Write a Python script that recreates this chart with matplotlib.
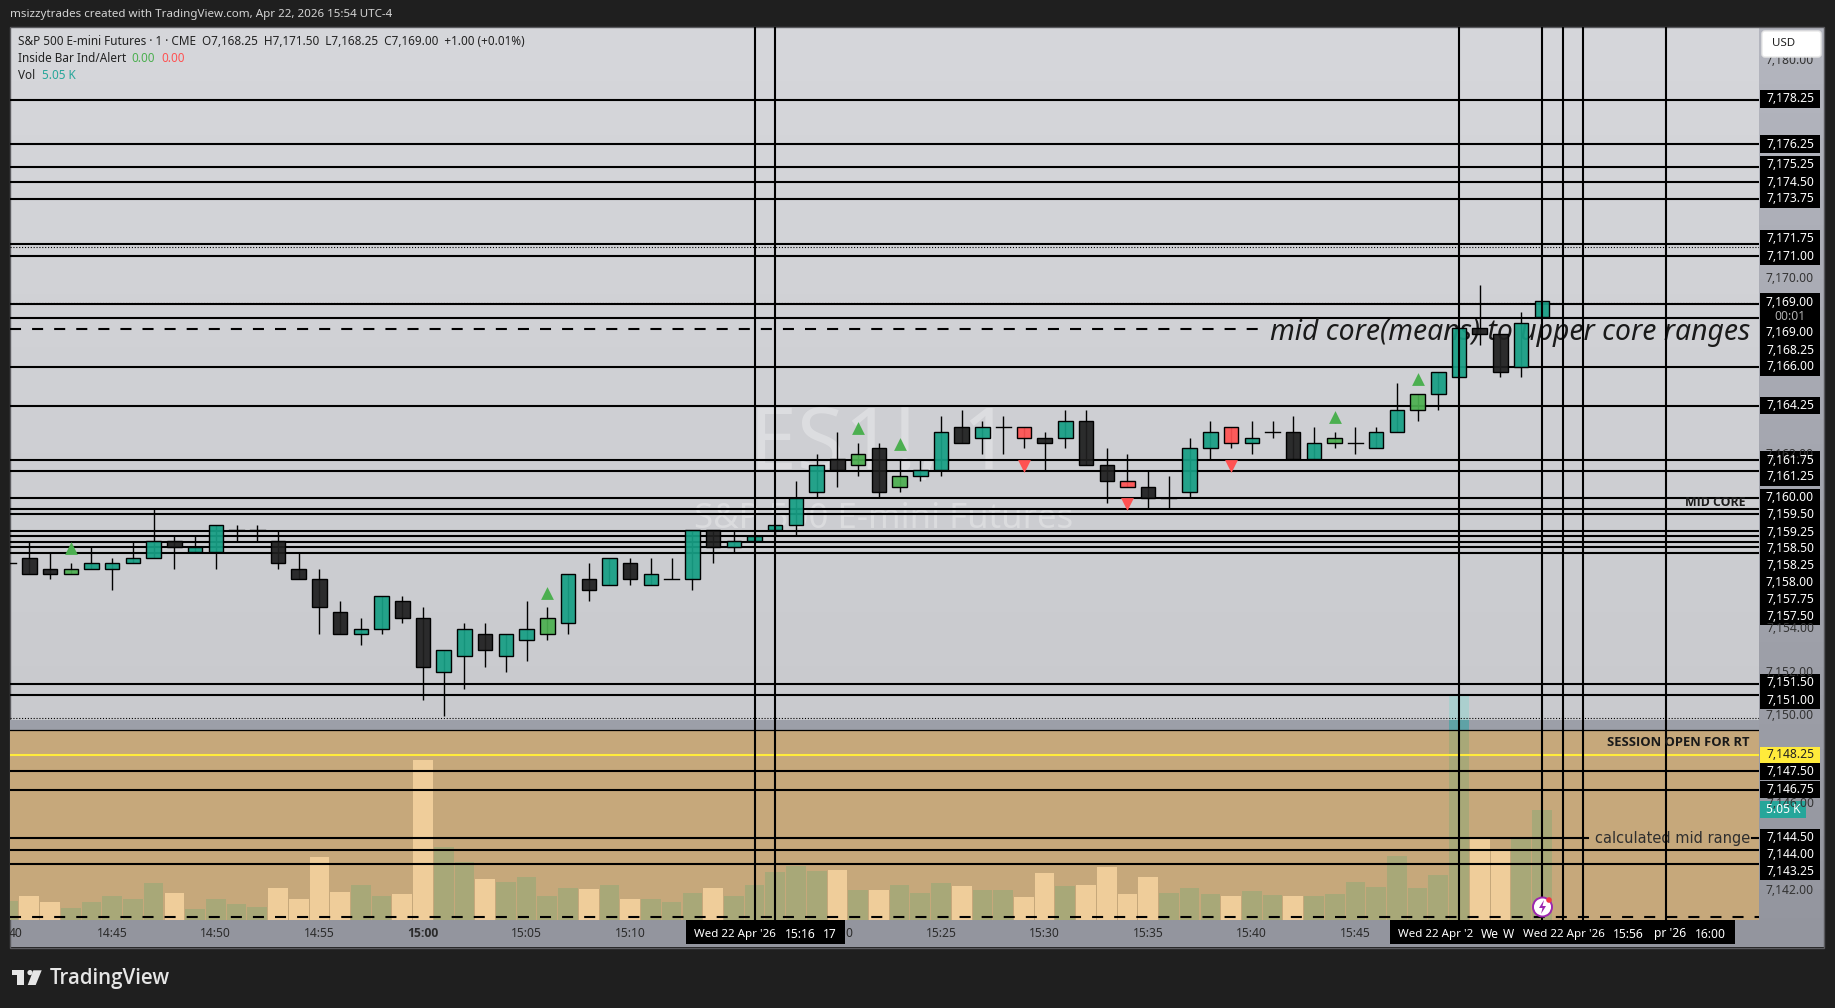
import numpy as np
import matplotlib
matplotlib.use("Agg")
import matplotlib.pyplot as plt
from matplotlib.patches import Rectangle, Polygon, FancyBboxPatch, Circle

plt.rcParams['font.family'] = ['Noto Sans', 'DejaVu Sans']

# ---------- data ----------
opens = [7157,7157.25,7156.75,7156.5,7156.75,7156.75,7157,7157.25,7158,7157.5,
 7157.5,7158.5,7158.5,7158,7156.75,7156.25,7154.75,7153.75,7154,7155.25,
 7154.5,7152,7152.75,7153.75,7152.75,7153.5,7153.75,7154.25,7156.25,7156,
 7157,7156,7156.25,7156.25,7158.5,7157.75,7158,7158.5,7158.75,7160.25,
 7161.75,7161.5,7162.25,7160.5,7161,7161.25,7163.25,7162.75,7163.25,7163.25,
 7162.75,7162.75,7163.5,7161.5,7160.75,7160.5,7160,7160.25,7162.25,7163.25,
 7162.5,7163,7163,7161.75,7162.5,7162.5,7162.25,7163,7164,7164.75,
 7165.5,7167.75,7167.5,7166,7168.25]
highs = [7157,7158,7157.5,7157,7157.75,7157.25,7158,7159.5,7158.25,7158.25,
 7158.75,7158.75,7158.75,7158.5,7157.5,7156.75,7155.25,7154.5,7155.5,7155.5,
 7155,7153,7154.25,7154.25,7153.75,7155.25,7155,7156.5,7157,7157.25,
 7157.25,7157.25,7157.25,7158.5,7158.5,7158.5,7158.25,7158.75,7160.75,7162,
 7163,7162.5,7162.5,7161.75,7161.75,7163.75,7164,7163.5,7163.75,7163.25,
 7163,7164,7164,7162.25,7162,7161.25,7161,7162.75,7163.5,7163.25,
 7163.5,7163.5,7163.75,7163.25,7163,7163.25,7163.25,7165.25,7164.75,7165.75,
 7167.75,7169.75,7167.5,7168.5,7169]
lows = [7157,7156.5,7156.25,7156.5,7156.75,7155.75,7157,7157.25,7156.75,7157.5,
 7156.75,7158,7158,7156.75,7156.25,7153.75,7153.75,7153.25,7153.75,7154.25,
 7150.75,7150,7151.25,7152.25,7152,7152.5,7153.5,7153.75,7155.25,7156,
 7156,7156,7156.25,7155.75,7157,7157.5,7158,7158.25,7158.25,7160,
 7160.5,7161,7160,7160.25,7160.75,7161,7162.5,7162,7162,7162.25,
 7161.25,7162.25,7161.5,7159.75,7160.5,7159.5,7159.5,7160,7161.75,7162.25,
 7162,7162.75,7161.75,7161.75,7162.25,7162,7162.25,7163,7163.5,7164,
 7165.5,7167,7165.5,7165.5,7168.25]
closes = [7157,7156.5,7156.5,7156.75,7157,7157,7157.25,7158,7157.75,7157.75,
 7158.75,7158.5,7158.5,7157,7156.25,7155,7153.75,7154,7155.5,7154.5,
 7152.25,7153,7154,7153,7153.75,7154,7154.5,7156.5,7155.75,7157.25,
 7156.25,7156.5,7156.25,7158.5,7157.75,7158,7158.25,7158.75,7160,7161.5,
 7161.25,7162,7160.25,7161,7161.25,7163,7162.5,7163.25,7163.25,7162.75,
 7162.5,7163.5,7161.5,7160.75,7160.5,7160,7160,7162.25,7163,7162.5,
 7162.75,7163,7161.75,7162.5,7162.75,7162.5,7163,7164,7164.75,7165.75,
 7167.75,7167.5,7165.75,7168,7169]
inside_up = [3,26,41,43,64,68]
inside_up_marker = [7157.7,7155.65,7163.18,7162.45,7163.68,7165.42]
inside_down = [49,54,59]
inside_down_marker = [7161.44,7159.7,7161.44]
volumes = [.88,1.11,.83,.54,.79,1.07,.93,1.7,1.21,.51,.93,.74,.6,1.47,.97,2.89,1.25,1.61,1.07,1.16,
 7.34,3.35,2.67,1.89,1.75,1.98,1.11,1.47,1.42,1.61,.95,.95,.8,1.22,1.45,1.09,1.59,2.19,2.47,2.24,
 2.28,1.36,1.36,1.59,1.22,1.67,1.55,1.36,1.36,1.04,2.14,1.55,1.59,2.42,1.18,1.96,1.22,1.45,1.18,1.09,
 1.32,1.13,1.09,1.09,1.18,1.73,1.5,2.92,1.45,2.05,10.25,3.71,3.15,3.8,5.05]
vol_peach = [1,2,8,13,14,15,16,19,20,23,28,30,34,40,42,46,49,50,52,53,54,55,59,62,71,72]
levels = [7178.2,7176.19,7175.15,7174.45,7173.68,7171.61,7171.07,7168.88,7168.24,7166.0,7164.21,
 7161.72,7161.23,7160.0,7159.48,7159.25,7158.48,7158.22,7157.97,7157.74,7157.46,
 7151.46,7150.97,7147.48,7146.62,7143.86,7143.22]
level_mid_range = 7144.41
level_session = 7148.21
level_pane_top = 7149.36
dotted_levels = [7171.47,7168.92,7149.93]
dashed_top = 7167.72
dashed_bottom = 7140.8
vlines = [36,37,70,74,75,76,80]
time_ticks = ['40','14:45','14:50','14:55','15:00','15:05','15:10','15:25','15:30','15:35','15:40','15:45']
time_tick_idx = [0.35,5,10,15,20,25,30,45,50,55,60,65]
axis_prices = ['7,180.00','7,170.00','7,162.00','7,154.00','7,152.00','7,150.00','7,146.00','7,142.00']
axis_prices_y = [61,278.3,454,628.7,672,715.7,803.7,890.7]
tags = ['7,178.25','7,176.25','7,175.25','7,174.50','7,173.75','7,171.75','7,171.00','7,169.00','7,169.00','7,168.25','7,166.00','7,164.25',
 '7,161.75','7,161.25','7,160.00','7,159.50','7,159.25','7,158.50','7,158.25','7,158.00','7,157.75','7,157.50',
 '7,151.50','7,151.00','7,147.50','7,146.75','7,144.50','7,144.00','7,143.25']
tags_y = [99,144,165,182,199,239,256,302,332,350,367,405.7,460,477,497.7,514.7,532,548.7,565.7,582.3,599.7,616.3,
 683,700.7,771.7,789.7,837.7,854.7,871.7]

# ---------- layout ----------
W, H = 1835, 1008
L, R, T, B = 10, 1759, 27, 919.7
BAR_PX, X0 = 20.72, 8.6
PX_PER_PT, Y_REF, P_REF = 21.84, 99, 7178.25
VOL_PX = 21.78
UI = ['Noto Sans', 'DejaVu Sans']
BOLD = ['Open Sans', 'DejaVu Sans']

fig = plt.figure(figsize=(W/100, H/100), dpi=100, facecolor='#1f1f1f')
def pane(zorder):
    a = fig.add_axes([L/W, 1-B/H, (R-L)/W, (B-T)/H], zorder=zorder)
    a.axis('off')
    a.patch.set_alpha(0)
    a.set_xlim((L-X0)/BAR_PX, (R-X0)/BAR_PX)
    return a

bg = fig.add_axes([0, 0, 1, 1], zorder=0)
bg.set_xlim(0, W); bg.set_ylim(H, 0); bg.axis('off')
grad = np.linspace(0, 1, 256).reshape(-1, 1)
bg.imshow(grad, extent=[L, R, 720, T], cmap=matplotlib.colors.LinearSegmentedColormap.from_list('a', ['#d6d7db', '#c9cace']), aspect='auto', zorder=0)
bg.imshow(grad, extent=[R, 1824, 947, T], cmap=matplotlib.colors.LinearSegmentedColormap.from_list('b', ['#b4b6bf', '#93959e']), aspect='auto', zorder=0)
bg.add_patch(Rectangle((L, 720), R-L, 227, fc='#93959e', ec='none', zorder=0.5))
bg.add_patch(Rectangle((L-0.5, T-0.5), 1824-L, 947-T+1, fc='none', ec='#5a5a5e', lw=1, zorder=1))
bg.set_xlim(0, W); bg.set_ylim(H, 0)
bg.text(880, 447, 'ES1!, 1', fontsize=62, color='white', alpha=0.3, ha='center', va='center', zorder=2, family=UI)
bg.text(884, 519, 'S&P 500 E-mini Futures', fontsize=25, color='white', alpha=0.3, ha='center', va='center', zorder=2, family=UI)

# volume pane
av = pane(1)
av.set_ylim(0, (B-T)/VOL_PX)
band_top = (B-730)/VOL_PX
gray_top = (B-720)/VOL_PX
av.axhspan(0, band_top, color='#c6a87b', lw=0, zorder=1)
av.axhspan(band_top, gray_top, color='#9c9fa8', lw=0, zorder=1)
idx = np.arange(len(volumes))
vols = np.array(volumes)
bcol = ['#efcd9a' if i in vol_peach else '#a8a878' for i in idx]
av.bar(idx, np.minimum(vols, band_top), width=0.95, color=bcol, lw=0, zorder=2)
over = vols > band_top
av.bar(idx[over], np.minimum(vols[over], gray_top)-band_top, bottom=band_top, width=0.95, color='#5fa2a6', lw=0, zorder=2)
av.bar(idx[over], vols[over]-gray_top, bottom=gray_top, width=0.95, color='#abcfce', lw=0, zorder=2)

# price pane
ax = pane(2)
ax.set_ylim(P_REF-(B-Y_REF)/PX_PER_PT, P_REF+(Y_REF-T)/PX_PER_PT)
lw2 = 1.5
for p in levels:
    ax.axhline(p, color='black', lw=lw2, zorder=2)
ax.axhline(level_pane_top, color='black', lw=0.9, zorder=2)
ax.axhline(level_session, color='#ffeb3b', lw=lw2, zorder=2)
for p in dotted_levels:
    ax.axhline(p, color='black', lw=0.8, ls=(0, (1, 1.6)), zorder=2)
xpx = lambda px: (px-X0)/BAR_PX
ax.plot([xpx(L), xpx(1258)], [dashed_top]*2, color='black', lw=lw2, ls=(0, (5.3, 5.3)), zorder=2)
ax.plot([xpx(L), xpx(R)], [dashed_bottom]*2, color='black', lw=lw2, ls=(0, (5.3, 5.3)), zorder=2)
ax.plot([xpx(L), xpx(1588)], [level_mid_range]*2, color='black', lw=lw2, zorder=2)
ax.plot([xpx(1752), xpx(R)], [level_mid_range]*2, color='black', lw=lw2, zorder=2)

ax.text(xpx(1270), dashed_top-0.15, 'mid core(means) to upper core ranges', fontsize=20.4, style='italic', color='#1a1a1a', va='center', ha='left', zorder=3, family=UI)
ax.text(xpx(1595), level_mid_range, 'calculated mid range', fontsize=10.5, color='#2e2e2e', va='center', ha='left', zorder=3, family=['DejaVu Sans'])

up_set, dn_set = set(inside_up), set(inside_down)
for i, (o, h, l, c) in enumerate(zip(opens, highs, lows, closes)):
    ax.plot([i, i], [l, h], color='black', lw=1.0, zorder=4, solid_capstyle='butt')
    if o == c:
        ax.plot([i-0.36, i+0.36], [o, o], color='black', lw=1.0, zorder=4)
        continue
    if i in up_set:
        col = '#4caf50'
    elif i in dn_set:
        col = '#ff5252'
    elif c > o:
        col = '#179f85'
    else:
        col = '#1f1f1f'
    ax.add_patch(Rectangle((i-0.35, min(o, c)), 0.7, abs(c-o), fc=matplotlib.colors.to_rgba(col, 0.93), ec='black', lw=1.0, zorder=5))
ax.scatter(inside_up, inside_up_marker, marker='^', s=85, color='#4caf50', lw=0, zorder=5)
ax.scatter(inside_down, inside_down_marker, marker='v', s=85, color='#ff5252', lw=0, zorder=5)
for v in vlines:
    ax.axvline(v, color='black', lw=lw2, zorder=6)

# overlay in pixels
ov = fig.add_axes([0, 0, 1, 1], zorder=3)
ov.set_xlim(0, W); ov.set_ylim(H, 0); ov.axis('off'); ov.patch.set_alpha(0)
def txt(x, y, s, size=9, color='#222222', ha='left', **kw):
    kw.setdefault('family', UI)
    return ov.text(x, y, s, fontsize=size, color=color, ha=ha, va='center', **kw)

txt(1607, 743, 'SESSION OPEN FOR RT', 9.4, '#1a1a1a', weight='bold', family=BOLD)
txt(1685, 503, 'MID CORE', 8.8, '#1a1a1a', weight='bold', family=BOLD)

txt(10, 15, 'msizzytrades created with TradingView.com, Apr 22, 2026 15:54 UTC-4', 8.33, '#d4d4d4')
txt(18, 41.7, 'S&P 500 E-mini Futures · 1 · CME  O7,168.25  H7,171.50  L7,168.25  C7,169.00  +1.00 (+0.01%)', 8.46)
txt(18, 58.7, 'Inside Bar Ind/Alert', 8.46)
txt(131, 58.7, '0.00', 8.46, '#4caf50')
txt(161, 58.7, '0.00', 8.46, '#ff5252')
txt(18, 75.7, 'Vol', 8.46)
txt(41.5, 75.7, '5.05 K', 8.46, '#26a69a')

# price axis
for s, y in zip(axis_prices, axis_prices_y):
    txt(1790, y, s, 8.7, '#333333', ha='center')
for s, y in zip(tags, tags_y):
    ov.add_patch(Rectangle((1760, y-8.6), 60, 17.2, fc='black', ec='none', zorder=2))
for s, y in zip(tags, tags_y):
    txt(1790, y, s, 8.7, 'white', ha='center', zorder=3)
ov.add_patch(Rectangle((1760, 294), 60, 31, fc='black', ec='none', zorder=2))
txt(1790, 316, '00:01', 8.7, '#b0b0b0', ha='center', zorder=3)
ov.add_patch(Rectangle((1760, 746.5), 60, 16.5, fc='#ffeb3b', ec='none', zorder=2))
txt(1790, 754.7, '7,148.25', 8.7, '#222222', ha='center', zorder=3)
ov.add_patch(Rectangle((1760, 800.5), 46, 17, fc='#26a69a', ec='none', zorder=2))
txt(1783, 809.3, '5.05 K', 8.7, 'white', ha='center', zorder=3)
ov.add_patch(FancyBboxPatch((1762, 31), 59, 26, boxstyle='round,pad=0,rounding_size=3', fc='white', ec='#e8e8e8', lw=1, mutation_scale=1, zorder=4))
txt(1772, 44, 'USD', 8.3, '#222222', zorder=5)

# time axis
for s, i in zip(time_ticks, time_tick_idx):
    x = X0 + i*BAR_PX
    txt(x, 933.5, s, 8.7, '#2b2b2b', ha='center', weight='bold' if s == '15:00' else 'normal', family=BOLD if s == '15:00' else UI, zorder=1)
txt(845.5, 933.5, '0', 8.7, '#2b2b2b', zorder=1)
ov.add_patch(Rectangle((686, 920), 158.5, 23.5, fc='black', ec='none', zorder=2))
ov.add_patch(Rectangle((1390, 920), 344.5, 23.5, fc='black', ec='none', zorder=2))
date_labels = ["Wed 22 Apr '26", '15:16', '17', "Wed 22 Apr '2", 'We', 'W', "Wed 22 Apr '26", '15:56', "pr '26", '16:00']
date_x = [694, 785, 823, 1398, 1481, 1503, 1523, 1613, 1654, 1695]
for s, x in zip(date_labels, date_x):
    txt(x, 934, s, 8.3 if 'Wed' in s else 8.7, 'white', zorder=3)

# alert badge
ov.add_patch(Circle((1542.5, 907), 9.5, fc='white', ec='#9c27b0', lw=1.4, zorder=4))
ov.add_patch(Polygon([[1544, 900], [1539, 908], [1542.5, 908], [1541, 914], [1546, 906], [1542.5, 906]], fc='#9c27b0', ec='none', zorder=5))
ov.add_patch(Circle((1549, 900), 2.8, fc='#f23645', ec='none', zorder=5))

# logo
logo = '#e6e6e6'
ov.add_patch(Polygon([[12, 970.3], [24, 970.3], [24, 985], [17, 985], [17, 975.2], [12, 975.2]], fc=logo, ec='none'))
ov.add_patch(Circle((30, 972.6), 2.6, fc=logo, ec='none'))
ov.add_patch(Polygon([[33.3, 970.3], [41.7, 970.3], [35.7, 985], [27.7, 985]], fc=logo, ec='none'))
txt(49.5, 978.5, 'TradingView', 14.8, logo, weight='semibold', family=BOLD)

fig.savefig('out.png', dpi=100, facecolor=fig.get_facecolor())
